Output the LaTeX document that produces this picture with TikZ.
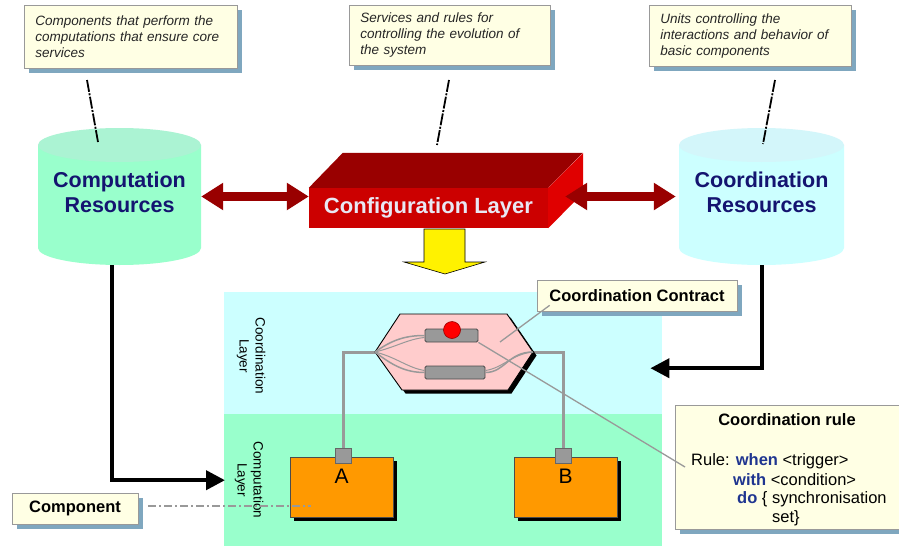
\documentclass[tikz,border=0pt]{standalone}
\usepackage{fontspec}
\setmainfont{Liberation Sans}
\usetikzlibrary{arrows.meta,shadows}
\definecolor{cream}{HTML}{FFFFE4}
\definecolor{shadowblue}{HTML}{7FA7BF}
\definecolor{mint}{HTML}{99FFCC}
\definecolor{minttop}{HTML}{ABF3D3}
\definecolor{icecyan}{HTML}{CCFFFF}
\definecolor{icetop}{HTML}{D3F6FA}
\definecolor{navy}{HTML}{141470}
\definecolor{darkred}{HTML}{990000}
\definecolor{midred}{HTML}{CC0000}
\definecolor{brightred}{HTML}{E00000}
\definecolor{cfgtext}{HTML}{E8E8F4}
\definecolor{pinkhex}{HTML}{FFCCCC}
\definecolor{midgray}{HTML}{999999}
\definecolor{orangebox}{HTML}{FF9900}
\definecolor{kwblue}{HTML}{1F3590}
\begin{document}
\begin{tikzpicture}[x=1pt,y=-1pt,
  every node/.style={inner sep=0pt},
  callout/.style={draw=black!40, fill=cream, line width=0.7pt,
    drop shadow={shadow xshift=5pt, shadow yshift=-5pt, fill=shadowblue, opacity=1}},
  notefont/.style={font=\fontsize{13.5}{16}\selectfont\itshape, text=black!85},
  boldlbl/.style={font=\fontsize{16.5}{19}\selectfont\bfseries},
  rulefont/.style={font=\fontsize{16.5}{19}\selectfont},
  cyltext/.style={font=\fontsize{21.5}{25}\selectfont\bfseries, text=navy, align=center},
  leader/.style={draw=black, line width=1.8pt, dash pattern=on 12pt off 1.5pt on 2pt off 1.5pt},
  redarrow/.style={draw=darkred, line width=9pt, {Triangle[width=26pt,length=22pt]}-{Triangle[width=26pt,length=22pt]}},
  blkarrow/.style={draw=black, line width=4pt, -{Triangle[width=19pt,length=19pt]}},
  grayline/.style={draw=midgray, line width=1.5pt},
  frameline/.style={draw=midgray, line width=3pt},
  compbox/.style={draw=black!70, fill=orangebox, line width=0.8pt, minimum width=103pt, minimum height=60pt,
    drop shadow={shadow xshift=4pt, shadow yshift=-4pt, fill=black, opacity=1}},
  port/.style={draw=black!60, fill=midgray, line width=0.6pt, minimum width=16pt, minimum height=15pt},
  bar/.style={draw=black!70, fill=midgray, line width=0.8pt, rounded corners=1.5pt},
  layerlbl/.style={font=\fontsize{13.5}{16}\selectfont, rotate=-90, align=center},
  dashdot/.style={draw=midgray, line width=1.2pt, dash pattern=on 8pt off 3pt on 2pt off 3pt},
]
\useasboundingbox (0,0) rectangle (899,546);
\fill[white] (0,0) rectangle (899,546);

% top callouts
\node[callout, notefont, anchor=north west, text width=191pt, minimum height=63pt, inner xsep=11pt, align=left]
  (note1) at (24,5) {Components that perform the\\computations that ensure core\\services};
\node[callout, notefont, anchor=north west, text width=179pt, minimum height=60pt, inner xsep=11pt, align=left]
  (note2) at (349,5) {Services and rules for\\controlling the evolution of\\the system};
\node[callout, notefont, anchor=north west, text width=180pt, minimum height=61pt, inner xsep=11pt, align=left]
  (note3) at (649,5) {Units controlling the\\interactions and behavior of\\basic components};

\coordinate (l1a) at (87,80);  \coordinate (l1b) at (98,142);
\coordinate (l2a) at (449,80); \coordinate (l2b) at (437,145);
\coordinate (l3a) at (775,80); \coordinate (l3b) at (763,144);

% cylinders
\fill[mint] (38,145) -- (38,248) arc[start angle=180, end angle=0, x radius=81.5, y radius=17] -- (201,145) -- cycle;
\fill[minttop] (119.5,145) ellipse[x radius=81.5, y radius=17];
\node[minimum width=163pt, minimum height=137pt] (comp) at (119.5,196.5) {};
\node[cyltext] (comptext) at (119.5,192) {Computation\\Resources};

\fill[icecyan] (679,145) -- (679,248) arc[start angle=180, end angle=0, x radius=82.5, y radius=17] -- (844,145) -- cycle;
\fill[icetop] (761.5,145) ellipse[x radius=82.5, y radius=17];
\node[minimum width=165pt, minimum height=137pt] (coordres) at (761.5,196.5) {};
\node[cyltext] (coordtext) at (761.5,192) {Coordination\\Resources};

\draw[leader] (l1a) -- (l1b);
\draw[leader] (l2a) -- (l2b);
\draw[leader] (l3a) -- (l3b);

% configuration layer box
\node[fill=midred, minimum width=239pt, minimum height=40pt, font=\fontsize{22}{26}\selectfont\bfseries, text=cfgtext]
  (config) at (428.5,208) {Configuration Layer};
\fill[darkred] (config.north west) -- ++(34,-35) -- ++(240,0) -- (config.north east) -- cycle;
\fill[brightred] (config.north east) -- ++(35,-35) -- ++(0,40) -- (config.south east) -- cycle;

\coordinate (cfgR) at ([xshift=17pt]config.east);
\draw[redarrow] (comp.east) -- (comp.east -| config.west);
\draw[redarrow] (cfgR |- coordres.west) -- ([xshift=-3pt]coordres.west);

% yellow block arrow
\draw[fill=yellow, draw=black, line width=0.6pt] (424,229) -- (465,229) -- (465,262) -- (485,262) -- (445,274) -- (404,262) -- (424,262) -- cycle;

% layers
\node[fill=icecyan, minimum width=438pt, minimum height=122pt, anchor=north west] (coordlayer) at (224,292) {};
\node[fill=mint, minimum width=438pt, minimum height=132pt, anchor=north west] (complayer) at (224,414) {};
\node[layerlbl] (coordlbl) at (251,356) {Coordination\\Layer};
\node[layerlbl] (complbl) at (249,480) {Computation\\Layer};

% black arrows
\coordinate (compdrop) at ([xshift=-7.5pt]comp.south);
\draw[blkarrow] (compdrop) |- ([xshift=1pt]complayer.west);
\coordinate (coordin) at ([xshift=-12pt,yshift=-15pt]coordlayer.east);
\draw[blkarrow] (coordres.south) |- (coordin);

% contract hexagon
\coordinate (hL) at (375,352);
\coordinate (hR) at (533,352);
\coordinate (hexmid) at (500,342);
\node[port] (pA) at (343.5,455.5) {};
\node[port] (pB) at (563,455.5) {};
\draw[frameline] (pA.north) |- (hL);
\draw[frameline] (pB.north) |- (hR);
\fill[black] (378.5,355.5) -- (403.5,317.5) -- (510.5,317.5) -- (536.5,355.5) -- (511.5,393.5) -- (405.5,393.5) -- cycle;
\path[fill=pinkhex, draw=black, line width=0.9pt]
  (hL) -- (400,314) -- (507,314) -- (hR) -- (508,390) -- (402,390) -- cycle;
\node[bar, minimum width=53pt, minimum height=13pt] (bar1) at (451.5,335.5) {};
\node[bar, minimum width=60pt, minimum height=13pt] (bar2) at (455,372.5) {};
\draw[grayline] (hL) .. controls (392,340) and (405,335.5) .. (bar1.west);
\draw[grayline, line width=1pt] (hL) .. controls (396,347) and (408,339) .. ([yshift=-2pt]bar1.west);
\draw[grayline] (hL) .. controls (392,365) and (405,372.5) .. (bar2.west);
\draw[grayline, line width=1pt] (hL) .. controls (396,357) and (408,368) .. ([yshift=2pt]bar2.west);
\draw[grayline] (bar2.east) .. controls (505,372.5) and (508,352) .. (hR);
\draw[grayline, line width=1pt] ([yshift=2pt]bar2.east) .. controls (503,368) and (512,354) .. (hR);
\node[circle, fill=red, draw=red!60!black, line width=0.6pt, minimum size=17pt] (dot) at (452,330) {};

% components
\node[compbox] (A) at (341.5,487) {};
\node[compbox] (B) at (565.5,487) {};
\node[port] (pA2) at (343.5,455.5) {};
\node[port] (pB2) at (563,455.5) {};
\node[font=\fontsize{21}{24}\selectfont] (Alabel) at (341.5,476) {A};
\node[font=\fontsize{21}{24}\selectfont] (Blabel) at (565.5,476) {B};

% coordination contract callout
\node[callout, boldlbl, minimum width=200pt, minimum height=31pt] (contract) at (637,295.5) {Coordination Contract};
\draw[grayline, line width=1.3pt] ([xshift=13pt,yshift=6pt]contract.south west) -- (hexmid);

% coordination rule callout
\node[callout, anchor=north west, minimum width=240pt, minimum height=124pt] (rulebox) at (675,405) {};
\node[boldlbl] (ruletitle) at (787,420) {Coordination rule};
\node[rulefont, anchor=base west] (r1) at (691,465) {Rule: \textcolor{kwblue}{\bfseries when} <trigger>};
\node[rulefont, anchor=base west] (r2) at (733,485) {\textcolor{kwblue}{\bfseries with} <condition>};
\node[rulefont, anchor=base west] (r3) at (737,503) {\textcolor{kwblue}{\bfseries do} \{ synchronisation};
\node[rulefont, anchor=base west] (r4) at (772,522) {set\}};
\coordinate (rulept) at (685,467);
\draw[grayline, line width=1.3pt] (bar1.south east) -- (rulept);

% component callout
\node[callout, boldlbl, minimum width=126pt, minimum height=31pt] (compcall) at (75,508.5) {Component};
\coordinate (compend) at (311,506);
\draw[dashdot] ([xshift=10pt,yshift=2.5pt]compcall.east) -- (compend);
\end{tikzpicture}
\end{document}
